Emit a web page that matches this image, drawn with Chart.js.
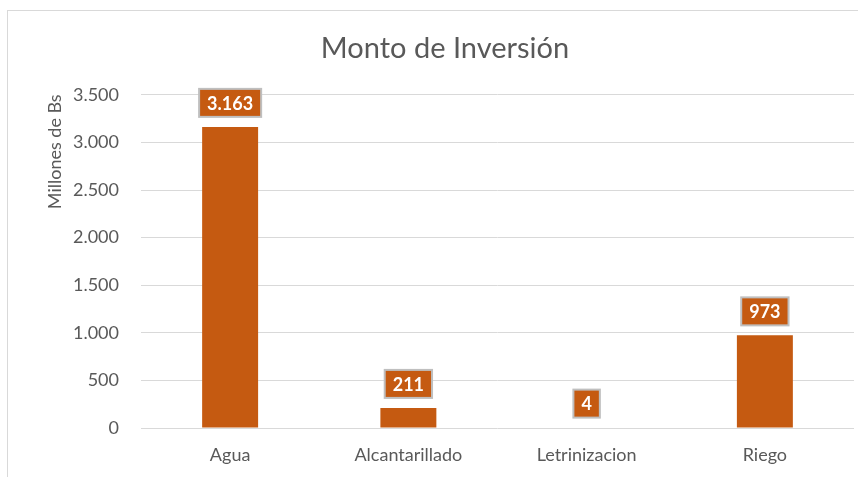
<!DOCTYPE html>
<html>
<head>
<meta charset="utf-8">
<script src="https://cdn.jsdelivr.net/npm/chart.js@4/dist/chart.umd.min.js"></script>
<style>
  html, body { margin: 0; padding: 0; background: #ffffff; overflow: hidden; width: 858px; height: 477px; }
  #frame { position: absolute; left: 7px; top: 10px; width: 900px; height: 500px; border: 1px solid #d9d9d9; background: #fff; }
  #wrap { position: absolute; left: 0; top: 0; width: 874px; height: 466px; }
</style>
</head>
<body>
<div id="frame"><div id="wrap"><canvas id="c" width="874" height="466"></canvas></div></div>
<script>
const categories = ["Agua", "Alcantarillado", "Letrinizacion", "Riego"];
const montos = [3163, 211, 4, 973];
const yTicks = [0, 500, 1000, 1500, 2000, 2500, 3000, 3500];
const chartTitle = "Monto de Inversión";
const yTitle = "Millones de Bs";

const FONT = "Lato, 'Open Sans', sans-serif";
const GRAY = "#595959";
const ORANGE = "#C55A11";

function fmt(n) {
  return String(Math.round(n)).replace(/\B(?=(\d{3})+(?!\d))/g, ".");
}

const labelPlugin = {
  id: "barLabels",
  afterDatasetsDraw(chart) {
    const ctx = chart.ctx;
    const meta = chart.getDatasetMeta(0);
    ctx.save();
    ctx.font = "bold 18px " + FONT;
    ctx.textAlign = "center";
    ctx.textBaseline = "middle";
    meta.data.forEach((bar, i) => {
      const txt = fmt(chart.data.datasets[0].data[i]);
      const w = ctx.measureText(txt).width + 16;
      const h = 28;
      const bottom = bar.y - 10;
      const x0 = bar.x - w / 2;
      const y0 = bottom - h;
      ctx.fillStyle = ORANGE;
      ctx.fillRect(x0, y0, w, h);
      ctx.strokeStyle = "#BFBFBF";
      ctx.lineWidth = 2;
      ctx.strokeRect(x0, y0, w, h);
      ctx.fillStyle = "#ffffff";
      ctx.fillText(txt, bar.x, y0 + h / 2 + 1);
    });
    ctx.restore();
  }
};

const yTitlePlugin = {
  id: "yTitle",
  afterDraw(chart) {
    const ctx = chart.ctx;
    ctx.save();
    ctx.font = "18px " + FONT;
    ctx.fillStyle = GRAY;
    ctx.textAlign = "center";
    ctx.textBaseline = "middle";
    ctx.translate(47, chart.chartArea.top + 57);
    ctx.rotate(-Math.PI / 2);
    ctx.fillText(yTitle, 0, 0);
    ctx.restore();
  }
};

new Chart(document.getElementById("c"), {
  type: "bar",
  data: {
    labels: categories,
    datasets: [{
      data: montos,
      backgroundColor: ORANGE,
      borderWidth: 0,
      categoryPercentage: 1,
      barPercentage: 0.314
    }]
  },
  options: {
    responsive: false,
    animation: false,
    devicePixelRatio: 1,
    layout: { padding: { left: 28, right: 28, top: 0, bottom: 0 } },
    plugins: {
      legend: { display: false },
      tooltip: { enabled: false },
      title: {
        display: true,
        text: chartTitle,
        color: GRAY,
        font: { family: FONT, size: 29, weight: "normal", lineHeight: 1.2 },
        padding: { top: 20, bottom: 29 }
      }
    },
    scales: {
      x: {
        grid: { display: false, drawTicks: false },
        border: { display: false },
        ticks: { color: GRAY, font: { family: FONT, size: 18 }, padding: 16, maxRotation: 0 },
        afterFit(scale) { scale.height = 49; }
      },
      y: {
        min: 0,
        max: 3500,
        afterBuildTicks(scale) { scale.ticks = yTicks.map(v => ({ value: v })); },
        grid: { color: "#D9D9D9", lineWidth: 1, drawTicks: false },
        border: { display: false },
        ticks: {
          color: GRAY,
          font: { family: FONT, size: 18 },
          padding: 22,
          callback: (v) => fmt(v)
        },
        afterFit(scale) { scale.width = 105; }
      }
    }
  },
  plugins: [labelPlugin, yTitlePlugin]
});
</script>
</body>
</html>
